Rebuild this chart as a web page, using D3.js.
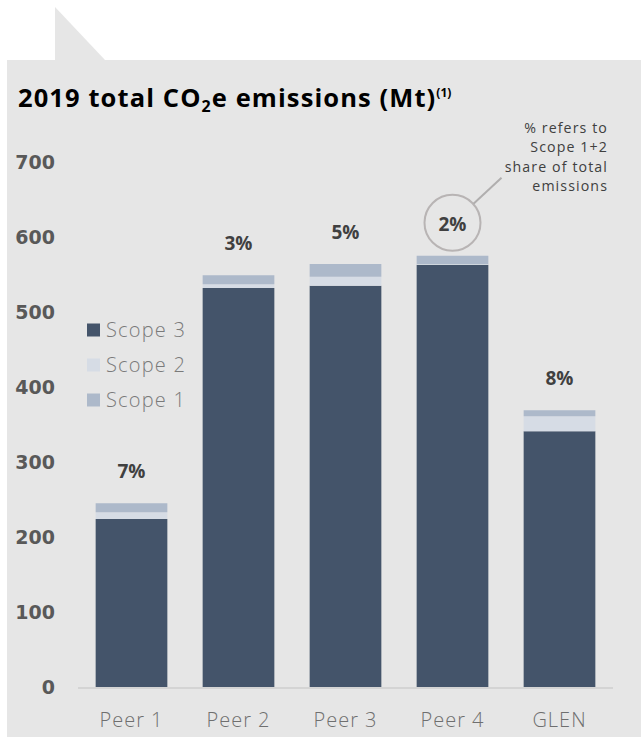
<!DOCTYPE html>
<html><head><meta charset="utf-8">
<script src="https://cdn.jsdelivr.net/npm/d3@7"></script>
<style>
html,body{margin:0;padding:0;background:#fff;}
svg{display:block;}
</style></head>
<body><svg id="c" width="641" height="741"></svg>
<script>
const categories = ["Peer 1","Peer 2","Peer 3","Peer 4","GLEN"];
const scope3 = [224, 532, 535, 563, 341];
const scope2 = [9, 5, 12, 1, 20];
const scope1 = [12, 12, 17, 11, 8];
const shareLabels = ["7%","3%","5%","2%","8%"];
const yTicks = [0,100,200,300,400,500,600,700];
const seriesNames = ["Scope 3","Scope 2","Scope 1"];
const seriesColors = ["#44546a","#d6dce5","#adb9ca"];
const noteLines = ["% refers to","Scope 1+2","share of total","emissions"];

const svg = d3.select("#c");
const font = "'Open Sans', 'DejaVu Sans', sans-serif";

// background panel and tab
svg.append("polygon").attr("points","55,7 55,60 105,60").attr("fill","#e6e6e6");
svg.append("rect").attr("x",7).attr("y",60).attr("width",634).attr("height",677).attr("fill","#e6e6e6");

// title
const title = svg.append("text").attr("x",18).attr("y",107)
  .attr("font-family",font).attr("font-weight",700).attr("font-size",25.5)
  .attr("letter-spacing",1.1).attr("fill","#000");
title.append("tspan").text("2019 total CO");
title.append("tspan").text("2").attr("font-size",16).attr("dy",5);
title.append("tspan").text("e emissions (Mt)").attr("dy",-5);
title.append("tspan").text("(1)").attr("font-size",12).attr("letter-spacing",0).attr("dy",-10);

const x = d3.scaleBand().domain(categories).range([78,613]).paddingInner(0.33).paddingOuter(0.165);
const y = d3.scaleLinear().domain([0,700]).range([687,162]);

// baseline
svg.append("line").attr("x1",78).attr("x2",613).attr("y1",y(0)+1).attr("y2",y(0)+1)
  .attr("stroke","#d4d4d4").attr("stroke-width",2);

// y axis labels
const yAxis = d3.axisLeft(y).tickValues(yTicks).tickSize(0).tickPadding(0);
const gy = svg.append("g").attr("transform","translate(55,0)").call(yAxis);
gy.select(".domain").remove();
gy.selectAll("text").attr("font-family","'DejaVu Sans', sans-serif").attr("font-weight",700)
  .attr("font-size",19).attr("fill","#595959").attr("dy","0.36em");

// x axis labels
const xAxis = d3.axisBottom(x).tickSize(0).tickPadding(0);
const gx = svg.append("g").attr("transform","translate(0,720)").call(xAxis);
gx.select(".domain").remove();
gx.selectAll("text").attr("font-family",font).attr("font-weight",300)
  .attr("font-size",20).attr("letter-spacing",1).attr("fill","#6f6f6f").attr("dy","0.36em");

// stacked bars
const rows = categories.map((c,i)=>({cat:c,"Scope 3":scope3[i],"Scope 2":scope2[i],"Scope 1":scope1[i]}));
const stack = d3.stack().keys(seriesNames)(rows);
const color = d3.scaleOrdinal().domain(seriesNames).range(seriesColors);
svg.append("g").selectAll("g").data(stack).join("g").attr("fill",d=>color(d.key))
  .selectAll("rect").data(d=>d).join("rect")
  .attr("x",d=>x(d.data.cat)).attr("width",x.bandwidth())
  .attr("y",d=>y(d[1])).attr("height",d=>y(d[0])-y(d[1]));

// share labels
const totals = categories.map((c,i)=>scope3[i]+scope2[i]+scope1[i]);
svg.append("g").selectAll("text").data(categories).join("text")
  .attr("x",d=>x(d)+x.bandwidth()/2).attr("y",(d,i)=>y(totals[i])-32)
  .attr("dy","0.36em").attr("text-anchor","middle")
  .attr("font-family",font).attr("font-weight",700).attr("font-size",19).attr("fill","#404040")
  .text((d,i)=>shareLabels[i]);

// circle around Peer 4 label
const cx = x("Peer 4")+x.bandwidth()/2, cy = y(totals[3])-33;
svg.append("circle").attr("cx",cx).attr("cy",cy).attr("r",28)
  .attr("fill","none").attr("stroke","#b8b4b4").attr("stroke-width",2);
svg.append("line").attr("x1",cx+21).attr("y1",cy-19).attr("x2",cx+49).attr("y2",cy-45)
  .attr("stroke","#b0aeae").attr("stroke-width",2);

// note
svg.append("g").selectAll("text").data(noteLines).join("text")
  .attr("x",608).attr("y",(d,i)=>128+i*19.3).attr("dy","0.36em").attr("text-anchor","end")
  .attr("font-family",font).attr("font-weight",400).attr("font-size",14.2)
  .attr("letter-spacing",1.1).attr("fill","#404040")
  .text(d=>d);

// legend
const lg = svg.append("g").selectAll("g").data(seriesNames).join("g")
  .attr("transform",(d,i)=>`translate(87,${330+i*35})`);
lg.append("rect").attr("x",0).attr("y",-6.5).attr("width",13).attr("height",13).attr("fill",d=>color(d));
lg.append("text").attr("x",19).attr("y",0).attr("dy","0.36em")
  .attr("font-family",font).attr("font-weight",300).attr("font-size",20)
  .attr("letter-spacing",1.2).attr("fill","#7a7a7a")
  .text(d=>d);
</script></body></html>
